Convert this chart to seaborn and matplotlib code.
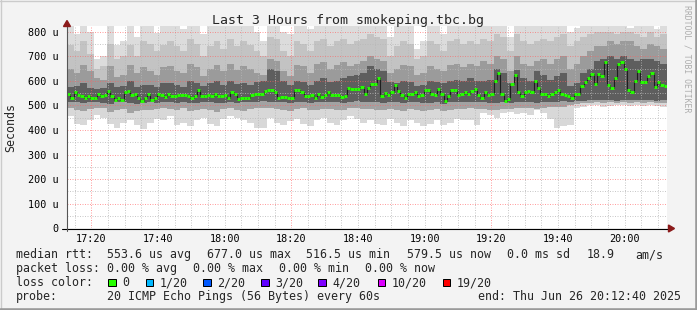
import numpy as np
import matplotlib
matplotlib.use("Agg")
import matplotlib.pyplot as plt
import seaborn as sns
from matplotlib.patches import Polygon, Rectangle
from matplotlib.lines import Line2D

# ---------------- data ----------------
title = "Last 3 Hours from smokeping.tbc.bg"
start_label = "17:12:40"          # first minute of the window
minutes_per_step = 1               # one median per minute
smoke_step = 2                     # smoke bins cover 2 minutes

tick_labels = ['17:20', '17:40', '18:00', '18:20', '18:40', '19:00', '19:20', '19:40', '20:00']
ytick_vals = [0, 100, 200, 300, 400, 500, 600, 700, 800]
ytick_labels = ['0', '100 u', '200 u', '300 u', '400 u', '500 u', '600 u', '700 u', '800 u']

median_rtt = [
    546, 532, 553, 544, 537, 532, 539, 530, 532, 548, 539, 542, 557, 539, 523,
    532, 523, 553, 559, 542, 546, 530, 519, 530, 547, 523, 530, 547, 544, 534,
    546, 539, 539, 544, 544, 544, 537, 532, 539, 561, 537, 537, 544, 539, 546,
    539, 539, 544, 532, 555, 546, 526, 532, 530, 530, 544, 546, 546, 548, 557,
    561, 561, 553, 532, 535, 535, 532, 530, 564, 561, 553, 537, 537, 544, 530,
    548, 535, 542, 553, 542, 542, 542, 535, 539, 571, 568, 568, 568, 575, 546,
    571, 586, 589, 613, 539, 551, 544, 553, 582, 557, 542, 532, 546, 548, 553,
    539, 544, 564, 561, 546, 542, 566, 546, 519, 539, 561, 561, 542, 548, 553,
    546, 557, 566, 544, 530, 555, 542, 548, 599, 631, 548, 517, 526, 589, 623,
    553, 537, 553, 559, 555, 599, 571, 546, 546, 537, 546, 555, 561, 548, 542,
    537, 532, 548, 548, 580, 596, 610, 629, 586, 629, 619, 677, 582, 571, 613,
    668, 675, 650, 561, 555, 599, 641, 596, 596, 619, 631, 575, 596, 582, 580,
]

# smoke envelope (2-minute bins), from outer top down to outer bottom
smoke_top = [
    822, 790, 822, 800, 690, 700, 822, 745, 760, 822, 780, 822, 822, 795, 822,
    822, 822, 810, 822, 822, 790, 822, 822, 822, 822, 822, 822, 822, 800, 760,
    822, 822, 800, 790, 822, 822, 810, 822, 822, 822, 822, 822, 822, 822, 822,
    822, 822, 822, 780, 822, 822, 822, 730, 760, 822, 822, 790, 822, 822, 822,
    822, 822, 822, 822, 822, 822, 780, 822, 822, 822, 822, 822, 822, 822, 822,
    800, 815, 822, 822, 822, 822, 822, 822, 822, 815, 822, 822, 822, 810, 822,
]
smoke_hi1 = [
    745, 720, 760, 710, 650, 660, 750, 690, 700, 745, 700, 760, 750, 720, 745,
    760, 740, 720, 770, 750, 700, 740, 760, 730, 770, 740, 760, 745, 720, 700,
    780, 770, 720, 700, 760, 750, 720, 760, 770, 740, 760, 770, 750, 760, 770,
    790, 780, 770, 700, 740, 760, 750, 690, 700, 760, 750, 720, 760, 770, 750,
    760, 750, 770, 760, 790, 780, 720, 790, 760, 750, 760, 770, 760, 780, 790,
    740, 760, 780, 790, 800, 800, 800, 790, 800, 800, 790, 780, 800, 780, 790,
]
smoke_hi2 = [
    650, 630, 665, 640, 610, 605, 660, 615, 625, 665, 630, 655, 640, 625, 655,
    660, 640, 630, 670, 655, 620, 650, 665, 640, 670, 645, 660, 650, 630, 625,
    690, 680, 640, 620, 665, 660, 630, 670, 675, 650, 665, 675, 660, 670, 680,
    700, 690, 680, 630, 650, 665, 660, 625, 630, 660, 650, 640, 665, 670, 655,
    670, 660, 680, 670, 700, 690, 640, 700, 670, 660, 680, 690, 670, 690, 700,
    650, 670, 700, 720, 740, 740, 760, 750, 760, 760, 740, 730, 750, 740, 730,
]
smoke_hi3 = [
    575, 580, 590, 572, 566, 570, 592, 575, 580, 600, 575, 585, 582, 575, 590,
    590, 585, 575, 600, 592, 580, 590, 598, 585, 600, 588, 590, 585, 595, 600,
    650, 640, 600, 585, 600, 595, 585, 600, 610, 595, 600, 610, 620, 625, 630,
    660, 650, 640, 595, 590, 600, 595, 580, 585, 600, 595, 590, 600, 605, 598,
    610, 600, 600, 605, 650, 630, 590, 645, 610, 600, 640, 625, 605, 620, 630,
    580, 590, 630, 650, 680, 690, 700, 690, 700, 690, 680, 690, 690, 680, 670,
]
smoke_lo3 = [
    515, 512, 508, 515, 515, 510, 506, 512, 515, 510, 505, 510, 512, 508, 515,
    512, 510, 514, 510, 508, 512, 515, 510, 508, 512, 510, 514, 512, 515, 516,
    515, 514, 512, 510, 512, 514, 510, 512, 515, 514, 512, 510, 515, 516, 515,
    515, 512, 510, 514, 512, 510, 514, 512, 508, 510, 512, 505, 512, 514, 512,
    515, 512, 514, 510, 508, 512, 510, 512, 514, 512, 510, 514, 512, 515, 516,
    515, 516, 518, 520, 520, 522, 520, 518, 520, 522, 520, 522, 520, 518, 520,
]
smoke_lo2 = [
    490, 480, 476, 485, 490, 488, 474, 480, 485, 470, 478, 482, 480, 485, 488,
    485, 480, 488, 478, 482, 486, 480, 475, 484, 488, 482, 478, 485, 490, 488,
    488, 484, 480, 476, 485, 488, 482, 480, 486, 484, 482, 480, 488, 490, 485,
    486, 482, 480, 485, 482, 478, 484, 480, 476, 480, 484, 478, 482, 486, 484,
    488, 484, 486, 480, 482, 486, 484, 488, 490, 488, 486, 490, 492, 494, 495,
    500, 505, 508, 510, 512, 510, 512, 510, 512, 510, 512, 510, 512, 510, 510,
]
smoke_lo1 = [
    455, 425, 420, 440, 460, 450, 425, 410, 430, 440, 420, 405, 430, 445, 440,
    455, 420, 430, 415, 440, 450, 425, 418, 445, 455, 450, 440, 430, 410, 408,
    450, 430, 420, 435, 445, 425, 415, 440, 450, 430, 420, 440, 455, 445, 430,
    440, 425, 420, 445, 430, 415, 440, 430, 418, 425, 440, 420, 430, 445, 440,
    440, 420, 470, 460, 450, 470, 475, 465, 470, 460, 480, 470, 445, 410, 415,
    420, 490, 495, 500, 500, 495, 498, 500, 502, 498, 500, 498, 500, 496, 495,
]

loss_labels = ['0', '1/20', '2/20', '3/20', '4/20', '10/20', '19/20']
loss_colors = ['#26ff00', '#00b8ff', '#0059ff', '#5e00ff', '#7e00ff', '#dd00ff', '#ff0000']

stats_rtt = ['553.6 us avg', '677.0 us max', '516.5 us min', '579.5 us now', '0.0 ms sd', '18.9', 'am/s']
stats_loss = ['0.00 % avg', '0.00 % max', '0.00 % min', '0.00 % now']
probe_text = '20 ICMP Echo Pings (56 Bytes) every 60s'
end_text = 'end: Thu Jun 26 20:12:40 2025'

# ---------------- figure ----------------
sns.set_style("white")
plt.rcParams['font.family'] = ['DejaVu Sans Mono', 'DejaVu Sans']

W, H = 697, 310
fig = plt.figure(figsize=(W / 100, H / 100), dpi=100, facecolor='#f3f3f3')


def fx(px):
    return px / W


def fy(py):
    return 1 - py / H


X0, X1, YB, YT = 67, 667, 228.3, 26
ax = fig.add_axes([fx(X0), fy(YB), fx(X1) - fx(X0), fy(YT) - fy(YB)])
ax.set_facecolor('white')

h, m, s = [int(v) for v in start_label.split(':')]
t0 = (h - 17) * 60 + m + s / 60.0
n = len(median_rtt)
ax.set_xlim(t0, t0 + n * minutes_per_step)
ax.set_ylim(0, 823)

med = np.array(median_rtt, dtype=float)
xm = t0 + np.arange(n + 1) * minutes_per_step
nb = len(smoke_top)
xb = t0 + np.arange(nb + 1) * smoke_step


def ext(a):
    a = np.asarray(a, dtype=float)
    return np.r_[a, a[-1]]


layers = [
    (smoke_hi1, smoke_top, '#dcdcdc'),
    (smoke_hi2, smoke_hi1, '#c3c3c3'),
    (smoke_hi3, smoke_hi2, '#9b9b9b'),
    (smoke_lo3, smoke_hi3, '#5e5e5e'),
    (smoke_lo2, smoke_lo3, '#a2a2a2'),
    (smoke_lo1, smoke_lo2, '#d8d8d8'),
]
for lo, hi, col in layers:
    ax.fill_between(xb, ext(lo), ext(hi), step='post', color=col, lw=0, zorder=1)

# grid
dot = (0, (1, 1.5))
for mm in np.arange(15, 195, 5):
    if t0 < mm < t0 + n:
        if mm in (20, 80, 140):
            ax.axvline(mm, color='#ff5f5f', alpha=0.6, lw=0.72, ls=dot, zorder=3)
        else:
            ax.axvline(mm, color='#b8b8b8', alpha=0.75, lw=0.72, ls=dot, zorder=3)
for yy in range(50, 850, 50):
    if yy % 100 == 0:
        ax.axhline(yy, color='#ff5f5f', alpha=0.6, lw=0.72, ls=dot, zorder=3)
    else:
        ax.axhline(yy, color='#b8b8b8', alpha=0.75, lw=0.72, ls=dot, zorder=3)

# median line (dark step) and loss-coloured median marks
sns.lineplot(x=xm, y=ext(med), drawstyle='steps-post', color='#1e1e1e', lw=0.8,
             ax=ax, zorder=4, legend=False)
ax.hlines(med, xm[:-1], xm[1:], colors=loss_colors[0], lw=2.1, zorder=5,
          capstyle='butt')

# ticks
tick_pos = [(int(t.split(':')[0]) - 17) * 60 + int(t.split(':')[1]) for t in tick_labels]
ax.set_xticks(tick_pos)
ax.set_xticklabels(tick_labels, fontsize=7.3)
ax.set_yticks(ytick_vals)
ax.set_yticklabels(ytick_labels, fontsize=7.3)
ax.tick_params(axis='x', length=0, pad=4.2, colors='black')
ax.tick_params(axis='y', length=0, pad=5.8, colors='black')
for sp in ax.spines.values():
    sp.set_visible(False)
ax.set_xlabel('')
ax.set_ylabel('')


def fline(x0, y0, x1, y1, color, lw=1.0, ls='-'):
    fig.add_artist(Line2D([fx(x0), fx(x1)], [fy(y0), fy(y1)], color=color,
                          lw=lw * 0.72, ls=ls, transform=fig.transFigure, zorder=10))


# axes lines and arrows
fline(62, 228.5, 670, 228.5, '#000000', 1.1)
fline(67, 231, 67, 25, '#555555', 1.1)
fig.add_artist(Polygon([[fx(63.5), fy(26.5)], [fx(70.5), fy(26.5)], [fx(67), fy(20.5)]],
                       closed=True, color='#8b1a1a', transform=fig.transFigure, zorder=11))
fig.add_artist(Polygon([[fx(668.5), fy(225)], [fx(668.5), fy(232)], [fx(674.5), fy(228.5)]],
                       closed=True, color='#8b1a1a', transform=fig.transFigure, zorder=11))

# frame shading
fline(0, 0.5, W, 0.5, '#cbcbcb', 1.4)
fline(0.5, 0, 0.5, H, '#cbcbcb', 1.4)
fline(0, H - 1, W, H - 1, '#9a9a9a', 2.6)
fline(W - 1, 0, W - 1, H, '#9a9a9a', 2.6)

# title, axis label, watermark
FS = 8.37
fig.text(fx(347.5), fy(24), title, ha='center', va='baseline', fontsize=9.5)
fig.text(fx(11), fy(127.5), 'Seconds', rotation=90, ha='center', va='center', fontsize=FS)
fig.text(fx(687), fy(5), 'RRDTOOL / TOBI OETIKER', rotation=270, ha='center', va='top',
         fontsize=5.9, color='#adadad')

# legend block
y1, y2, y3, y4 = 258, 272, 286, 300
fig.text(fx(16), fy(y1), 'median rtt:', ha='left', va='baseline', fontsize=FS)
for xpos, txt in zip([107.3, 206.7, 306, 407.3, 506.7, 586.7, 635], stats_rtt):
    fig.text(fx(xpos), fy(y1), txt, ha='left', va='baseline', fontsize=FS)

fig.text(fx(16), fy(y2), 'packet loss:', ha='left', va='baseline', fontsize=FS)
for xpos, txt in zip([107.3, 193.3, 279.3, 365], stats_loss):
    fig.text(fx(xpos), fy(y2), txt, ha='left', va='baseline', fontsize=FS)

fig.text(fx(16), fy(y3), 'loss color:', ha='left', va='baseline', fontsize=FS)
box_x = [108.3, 145.7, 203.3, 261, 318.3, 377.7, 442.7]
for bx, lab, col in zip(box_x, loss_labels, loss_colors):
    fig.add_artist(Rectangle((fx(bx), fy(y3)), fx(7.5), 7.5 / H, facecolor=col,
                             edgecolor='black', lw=0.72, transform=fig.transFigure, zorder=10))
    fig.text(fx(bx + 14.3), fy(y3), lab, ha='left', va='baseline', fontsize=FS)

fig.text(fx(16), fy(y4), 'probe:', ha='left', va='baseline', fontsize=FS)
fig.text(fx(107.3), fy(y4), probe_text, ha='left', va='baseline', fontsize=FS)
fig.text(fx(478.3), fy(y4), end_text, ha='left', va='baseline', fontsize=FS)

fig.savefig('out.png', dpi=100, facecolor=fig.get_facecolor())
